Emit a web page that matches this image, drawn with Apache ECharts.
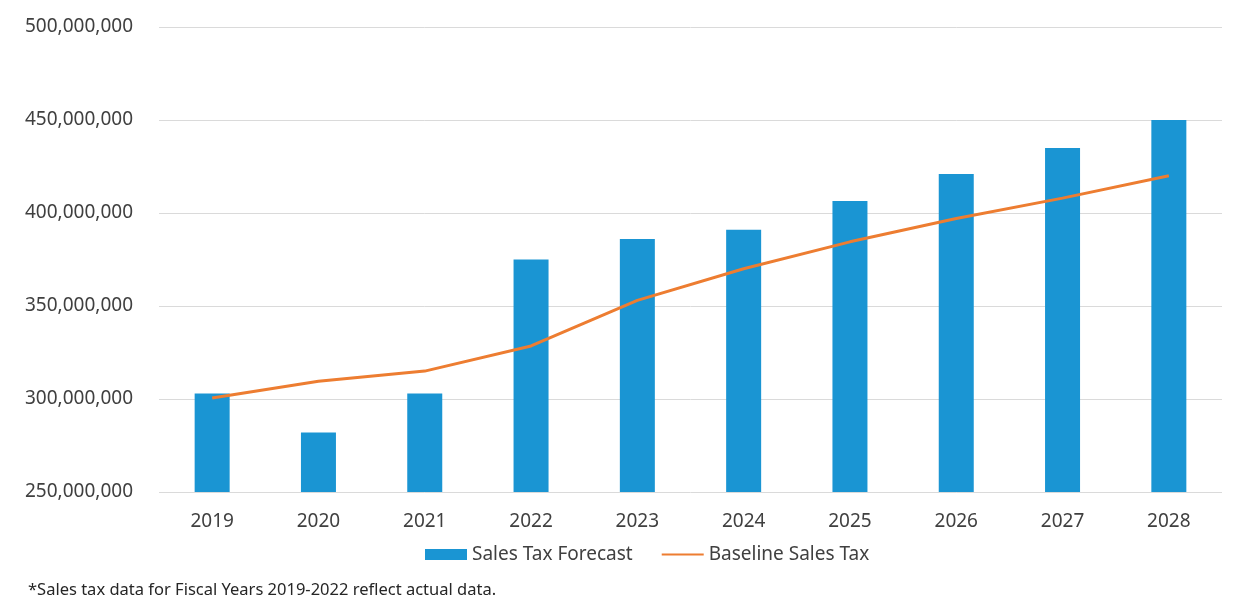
<!DOCTYPE html>
<html>
<head>
<meta charset="utf-8">
<script src="https://cdn.jsdelivr.net/npm/echarts@6/dist/echarts.min.js"></script>
<style>
  html, body { margin: 0; padding: 0; background: #ffffff; }
  #chart { width: 1249px; height: 603px; }
</style>
</head>
<body>
<div id="chart"></div>
<script>
// Fiscal years shown on the category axis
const years = ['2019', '2020', '2021', '2022', '2023', '2024', '2025', '2026', '2027', '2028'];
// Sales tax forecast (bars), dollars
const forecast = [303000000, 282000000, 303000000, 375000000, 386000000, 391000000, 406500000, 421000000, 435000000, 450000000];
// Baseline sales tax (line), dollars
const baseline = [300500000, 309500000, 315000000, 328500000, 353000000, 370000000, 384500000, 397000000, 408000000, 420000000];
// Value axis range
const yMin = 250000000;
const yMax = 500000000;
const yStep = 50000000;

const font = 'Noto Sans';
const chart = echarts.init(document.getElementById('chart'), null, { renderer: 'canvas' });

chart.setOption({
  backgroundColor: '#ffffff',
  animation: false,
  textStyle: { fontFamily: font },
  grid: { left: 159, right: 27, top: 27, bottom: 111, containLabel: false },
  legend: {
    left: 420,
    top: 540,
    itemGap: 28,
    itemWidth: 42,
    itemHeight: 11,
    textStyle: { fontFamily: font, fontSize: 19, color: '#404040' },
    data: [
      { name: 'Sales Tax Forecast', icon: 'rect' },
      { name: 'Baseline Sales Tax', itemStyle: { color: 'rgba(0,0,0,0)', borderWidth: 0 } }
    ]
  },
  xAxis: {
    type: 'category',
    data: years,
    axisLine: { show: false },
    axisTick: { show: false },
    axisLabel: { color: '#404040', fontSize: 19, fontFamily: font, margin: 20 }
  },
  yAxis: {
    type: 'value',
    min: yMin,
    max: yMax,
    interval: yStep,
    axisLine: { show: false },
    axisTick: { show: false },
    splitLine: { lineStyle: { color: '#dadada', width: 1 } },
    axisLabel: {
      color: '#404040',
      fontSize: 19,
      fontFamily: font,
      margin: 26,
      formatter: v => v.toLocaleString('en-US')
    }
  },
  series: [
    {
      name: 'Sales Tax Forecast',
      type: 'bar',
      data: forecast,
      barWidth: 35,
      itemStyle: { color: '#1a95d3' }
    },
    {
      name: 'Baseline Sales Tax',
      type: 'line',
      data: baseline,
      symbol: 'none',
      lineStyle: { color: '#ed7d31', width: 3 },
      itemStyle: { color: '#ed7d31' }
    }
  ],
  graphic: [
    {
      type: 'text',
      left: 28,
      top: 582,
      style: {
        text: '*Sales tax data for Fiscal Years 2019-2022 reflect actual data.',
        fontFamily: font,
        fontSize: 16.5,
        fill: '#262626'
      }
    }
  ]
});
</script>
</body>
</html>
